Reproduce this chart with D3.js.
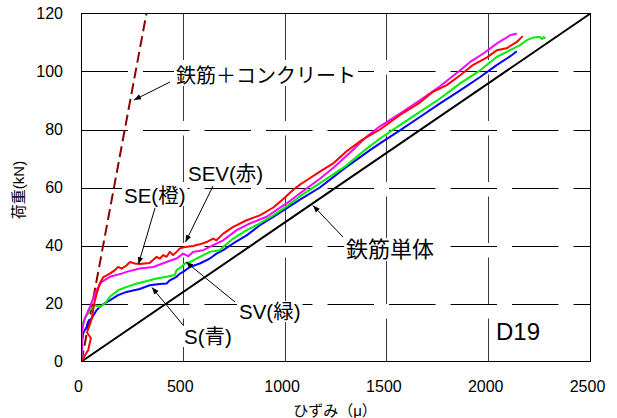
<!DOCTYPE html>
<html><head><meta charset="utf-8">
<script src="https://cdn.jsdelivr.net/npm/d3@7"></script>
<style>
html,body{margin:0;padding:0;background:#fff;}
svg{display:block;}
text{font-family:"Liberation Sans",Arial,"Noto Sans CJK JP",sans-serif;fill:#000;}
</style></head>
<body>
<script>
// ---- data ----
const xTicks = [0, 500, 1000, 1500, 2000, 2500];
const yTicks = [0, 20, 40, 60, 80, 100, 120];
const xTitle = "ひずみ（μ）";
const yTitle = "荷重(kN)";

const seriesNames = ["S(青)", "SV(緑)", "SE(橙)", "SEV(赤)"];
const seriesColors = ["#0000ff", "#00ee00", "#ff00ff", "#ff0000"];

const sData = [[0,0],[0,5],[8,9.7],[25,11.9],[32,13.7],[49,14.8],[74,17.7],[98,19.4],[139,21.1],[180,22.9],[221,24],[286,25],[335,26.3],[385,26.7],[418,26.9],[434,28],[467,29.2],[483,30.3],[499,30.9],[532,32.6],[581,33.8],[630,35.5],[663,37.2],[696,38.4],[745,40.7],[811,43.5],[876,47],[942,49.9],[1007,52.8],[1073,55.8],[1171,60],[1290,66.5],[1417,72.9],[1466,75.2],[1564,79.7],[1662,84.3],[1761,89],[1860,93.5],[1958,98.1],[2039,102.2],[2113,105.6],[2138,107]];

const svData = [[0,0],[4,4],[2,9],[5,13],[16,14.8],[41,17.7],[65,19.4],[90,18.8],[115,20],[139,22.3],[180,24.6],[221,25.7],[262,26.7],[303,27.4],[369,28.6],[418,29.2],[458,29.8],[467,31.5],[491,32.6],[508,33.8],[532,34.3],[581,36.1],[630,37.8],[680,38.4],[696,39.5],[745,42.4],[811,45.3],[876,47.6],[942,50.4],[1007,53.5],[1073,57],[1171,61.5],[1290,67],[1392,72.9],[1466,76.9],[1564,81.5],[1662,86.1],[1761,90.7],[1860,95.9],[1958,100.4],[2039,105],[2088,106.8],[2154,109.1],[2187,110.8],[2219,111.7],[2252,111.9],[2262,111.2],[2270,111.9],[2278,111.4]];

const seData = [[0,0],[2,5],[1,10],[8,12.5],[16,14.8],[41,18.8],[74,24.6],[98,27.4],[139,29.2],[197,30.3],[221,30.9],[286,32.1],[352,32.6],[418,34.3],[467,35.5],[499,37.2],[524,36.3],[548,37.8],[598,38.4],[647,40.1],[696,41.8],[762,45.3],[827,47.6],[909,49.9],[1007,54.5],[1073,58],[1171,63],[1240,67],[1318,72],[1400,77.5],[1466,81.1],[1564,85.5],[1662,90.1],[1761,94.9],[1860,100.4],[1909,103.3],[1974,106.2],[2039,109.6],[2105,112.5],[2138,113.1]];

const sevData = [[0,0],[8,1],[33,4],[46,8],[27,10],[49,14.3],[57,17.6],[65,21],[90,27],[106,29],[139,30.3],[164,31.5],[180,32.6],[197,32],[221,33.1],[238,34.3],[262,33.8],[286,33.6],[335,34],[369,36.1],[385,35.5],[401,36.7],[418,36.1],[434,37.8],[450,36.7],[467,37.8],[483,39],[508,39.5],[548,39.8],[581,40.4],[614,41.2],[647,42.4],[663,41.8],[696,44.1],[745,46.4],[811,48.7],[876,50.4],[942,53.1],[991,56],[1040,59.2],[1073,61],[1106,62.5],[1171,65.5],[1240,68.5],[1302,72.5],[1380,76.5],[1466,80],[1564,85],[1662,89.3],[1726,93],[1794,95.3],[1860,98.7],[1924,102.3],[1990,104.8],[2039,107.3],[2088,108],[2138,110.2],[2167,112.2]];

const steelOnly = [[0,0],[2500,120]];
const steelConcrete = [[0,0],[319,120]];

const sampleLabel = "D19";
const steelOnlyLabel = "鉄筋単体";
const steelConcreteLabel = "鉄筋＋コンクリート";

// ---- drawing ----
const W = 617, H = 418;
const svg = d3.select("body").append("svg").attr("width", W).attr("height", H);
svg.append("rect").attr("width", W).attr("height", H).attr("fill", "#fff");

const x = d3.scaleLinear().domain([0, 2500]).range([81.5, 590.5]);
const y = d3.scaleLinear().domain([0, 120]).range([361.5, 13.5]);

const defs = svg.append("defs");
defs.append("clipPath").attr("id", "clip").append("rect")
  .attr("x", x(0)).attr("y", y(120)).attr("width", x(2500) - x(0)).attr("height", y(0) - y(120));
defs.append("marker").attr("id", "arr").attr("viewBox", "0 0 10 10")
  .attr("refX", 10).attr("refY", 5).attr("markerWidth", 7).attr("markerHeight", 7)
  .attr("markerUnits", "userSpaceOnUse").attr("orient", "auto")
  .append("path").attr("d", "M0,1 L10,5 L0,9 Z").attr("fill", "#000");

// gridlines
svg.append("g").selectAll("line").data(yTicks.filter(d => d > 0 && d < 120)).join("line")
  .attr("x1", x(0)).attr("x2", x(2500)).attr("y1", d => Math.round(y(d)) + 0.5).attr("y2", d => Math.round(y(d)) + 0.5)
  .attr("stroke", "#000").attr("stroke-width", 1).attr("stroke-dasharray", "46.5,15");
svg.append("g").selectAll("line").data(xTicks.filter(d => d > 0 && d < 2500)).join("line")
  .attr("x1", d => Math.round(x(d) - 0.5) + 0.5).attr("x2", d => Math.round(x(d) - 0.5) + 0.5)
  .attr("y1", y(120)).attr("y2", y(0))
  .attr("stroke", "#3a3a3a").attr("stroke-width", 1).attr("stroke-dasharray", "46.5,14.5");

// labels with white backgrounds
function label(txt, lx, ly, size) {
  const g = svg.append("g");
  const t = g.append("text").attr("x", lx).attr("y", ly).attr("font-size", size).text(txt);
  const b = t.node().getBBox();
  g.insert("rect", "text").attr("x", b.x - 2).attr("y", b.y + 1).attr("width", b.width + 4).attr("height", b.height - 2).attr("fill", "#fff");
  return g;
}
function arrow(x1, y1, x2, y2) {
  svg.append("line").attr("x1", x1).attr("y1", y1).attr("x2", x2).attr("y2", y2)
    .attr("stroke", "#000").attr("stroke-width", 1).attr("marker-end", "url(#arr)");
}

label(steelConcreteLabel, 176, 83, 20);
label(seriesNames[3], 188, 181, 20.5);
label(seriesNames[2], 124, 203, 20.5);
label(steelOnlyLabel, 346, 257, 22);
label(seriesNames[1], 239, 319, 20.5);
label(seriesNames[0], 184, 344, 20.5);
label(sampleLabel, 496, 340, 24);

// lines
const line = d3.line().x(d => x(d[0])).y(d => y(d[1]));
const plot = svg.append("g").attr("clip-path", "url(#clip)");
plot.append("path").datum(steelOnly).attr("d", line).attr("fill", "none").attr("stroke", "#000").attr("stroke-width", 2);
plot.append("path").datum(steelConcrete).attr("d", line).attr("fill", "none").attr("stroke", "#8b0000").attr("stroke-width", 2).attr("stroke-dasharray", "11,5");
[sData, svData, seData, sevData].forEach((d, i) => {
  plot.append("path").datum(d).attr("d", line).attr("fill", "none")
    .attr("stroke", seriesColors[i]).attr("stroke-width", 2).attr("stroke-linejoin", "round");
});

// arrows
arrow(170, 82, 134, 100);
arrow(213, 186, 185.5, 242);
arrow(155, 208, 138.5, 264);
arrow(235, 302, 186, 262);
arrow(183, 325, 152, 287.5);
arrow(343, 237, 313, 205.5);

// frame
svg.append("rect").attr("x", x(0)).attr("y", y(120)).attr("width", x(2500) - x(0)).attr("height", y(0) - y(120))
  .attr("fill", "none").attr("stroke", "#000").attr("stroke-width", 1);

// tick labels
svg.append("g").selectAll("text").data(yTicks).join("text")
  .attr("x", 63).attr("y", d => y(d)).attr("dy", "0.36em").attr("text-anchor", "end").attr("font-size", 16).text(d => d);
svg.append("g").selectAll("text").data(xTicks).join("text")
  .attr("x", d => x(d) - 3).attr("y", 392).attr("text-anchor", "middle").attr("font-size", 16).text(d => d);

// axis titles
svg.append("text").attr("x", 335).attr("y", 416).attr("text-anchor", "middle").attr("font-size", 15).text(xTitle);
svg.append("text").attr("transform", "translate(24,190) rotate(-90)").attr("text-anchor", "middle").attr("font-size", 15).text(yTitle);
</script>
</body></html>
